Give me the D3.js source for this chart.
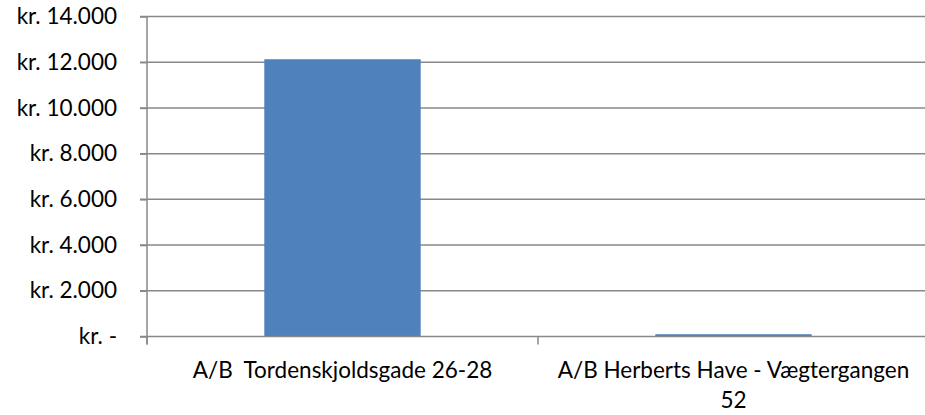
<!DOCTYPE html>
<html>
<head>
<meta charset="utf-8">
<script src="https://cdn.jsdelivr.net/npm/d3@7"></script>
<style>
html,body{margin:0;padding:0;background:#fff;}
svg{display:block;}
text{font-family:Lato, "Open Sans", sans-serif;fill:#000;}
</style>
</head>
<body>
<svg id="chart" width="925" height="415"></svg>
<script>
const categories = ["A/B  Tordenskjoldsgade 26-28", "A/B Herberts Have - Vægtergangen 52"];
const values = [12130, 100];
const yTicks = [0, 2000, 4000, 6000, 8000, 10000, 12000, 14000];
const yTickLabels = ["kr. -", "kr. 2.000", "kr. 4.000", "kr. 6.000", "kr. 8.000", "kr. 10.000", "kr. 12.000", "kr. 14.000"];

const svg = d3.select("#chart");
const mLeft = 147, mRight = 929, mTop = 16.5, mBottom = 336.5;
const fs = 22.5;

const x = d3.scaleBand().domain(categories).range([mLeft, mRight]).paddingInner(0.6).paddingOuter(0.3);
const xStep = d3.scaleBand().domain(categories).range([mLeft, mRight]).padding(0);
const y = d3.scaleLinear().domain([0, 14000]).range([mBottom, mTop]);

// gridlines
svg.append("g").selectAll("line").data(yTicks.filter(d => d > 0)).join("line")
  .attr("x1", mLeft - 7).attr("x2", mRight)
  .attr("y1", d => y(d)).attr("y2", d => y(d))
  .attr("stroke", "#888").attr("stroke-width", 1.5);

// bars
svg.append("g").selectAll("rect").data(values).join("rect")
  .attr("x", (d, i) => x(categories[i]))
  .attr("width", x.bandwidth())
  .attr("y", d => y(d))
  .attr("height", d => y(0) - y(d))
  .attr("fill", "#4F81BD");

// y axis
const yAxis = d3.axisLeft(y).tickValues(yTicks).tickSize(7)
  .tickFormat((d, i) => yTickLabels[i]).tickPadding(23);
const gy = svg.append("g").attr("transform", `translate(${mLeft},0)`).call(yAxis);
gy.select(".domain").remove();
gy.selectAll(".tick line").attr("stroke", "#888").attr("stroke-width", 1.5);
gy.selectAll(".tick text").attr("font-size", fs).attr("font-family", "Lato, sans-serif").attr("fill", "#000");
svg.append("line").attr("x1", mLeft).attr("x2", mLeft).attr("y1", mTop).attr("y2", mBottom + 8)
  .attr("stroke", "#888").attr("stroke-width", 1.5);

// x axis
svg.append("line").attr("x1", mLeft - 7).attr("x2", mRight).attr("y1", mBottom).attr("y2", mBottom)
  .attr("stroke", "#888").attr("stroke-width", 1.5);
const xTickPos = [mLeft, ...categories.map(c => xStep(c) + xStep.bandwidth())];
svg.append("g").selectAll("line").data(xTickPos).join("line")
  .attr("x1", d => d).attr("x2", d => d).attr("y1", mBottom).attr("y2", mBottom + 8)
  .attr("stroke", "#888").attr("stroke-width", 1.5);

// category labels
const labelLines = [["A/B  Tordenskjoldsgade 26-28"], ["A/B Herberts Have - Vægtergangen", "52"]];
categories.forEach((c, i) => {
  const cx = xStep(c) + xStep.bandwidth() / 2;
  const t = svg.append("text").attr("text-anchor", "middle").attr("font-size", fs)
    .attr("x", cx).attr("y", 378).style("white-space", "pre");
  labelLines[i].forEach((ln, j) => {
    t.append("tspan").attr("x", cx).attr("dy", j === 0 ? 0 : 30).text(ln);
  });
});
</script>
</body>
</html>
